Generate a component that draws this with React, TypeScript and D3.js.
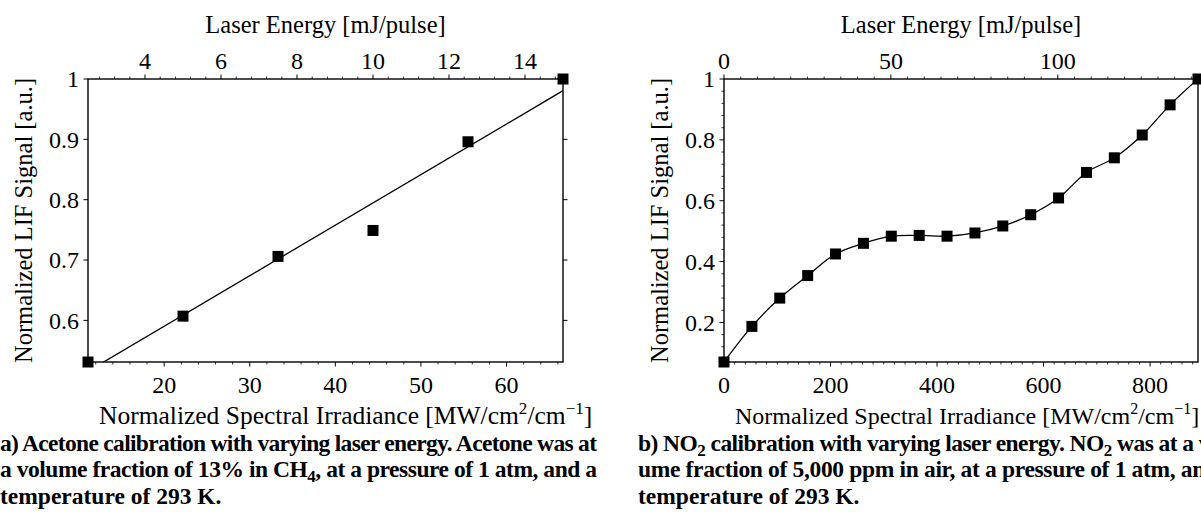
import React, { useLayoutEffect, useRef, useState } from 'react';
import * as d3 from 'd3';

const W = 1201;
const H = 512;
const FONT = '"Liberation Serif", "Times New Roman", serif';

// Panel (a): acetone signal against normalized spectral irradiance
const acetoneIrradiance = [11.1, 22.2, 33.3, 44.4, 55.5, 66.6];
const acetoneSignal = [0.531, 0.607, 0.706, 0.749, 0.896, 1.0];
const acetoneEnergyDomain = [2.5, 15];
const acetoneBottomTicks = [20, 30, 40, 50, 60];
const acetoneTopTicks = [4, 6, 8, 10, 12, 14];
const acetoneYTicks = [0.6, 0.7, 0.8, 0.9, 1];

// Panel (b): NO2 signal against normalized spectral irradiance
const no2Irradiance = [0, 52.4, 104.7, 157.1, 209.4, 261.8, 314.1, 366.5, 418.8, 471.2, 523.5, 575.9, 628.2, 680.6, 732.9, 785.3, 837.6, 890];
const no2Signal = [0.07, 0.187, 0.28, 0.354, 0.425, 0.46, 0.4835, 0.486, 0.4835, 0.494, 0.517, 0.554, 0.609, 0.693, 0.741, 0.816, 0.915, 1.0];
const no2EnergyDomain = [0, 142];
const no2BottomTicks = [0, 200, 400, 600, 800];
const no2TopTicks = [0, 50, 100];
const no2YTicks = [0.2, 0.4, 0.6, 0.8, 1];

const TICK_FONT = 24;
const TITLE_FONT = 24.5;
const CAP_FONT = 23.5;

type PanelProps = {
  id: string;
  x0: number; x1: number; y0: number; y1: number;
  xs: number[]; ys: number[];
  topDomain: number[];
  bottomTicks: number[]; topTicks: number[]; yTicks: number[];
  bottomMinor: number; topMinor: number; yMinor: number | null;
  rightTicks: boolean;
  mode: 'fit' | 'curve';
  yLabelX: number;
  xTitleSize: number;
};

function minorTicks(domain: number[], step: number, majors: number[]) {
  const [a, b] = domain;
  const start = Math.ceil(a / step - 1e-9) * step;
  return d3.range(start, b + 1e-9, step).filter(v => !majors.some(m => Math.abs(m - v) < step * 0.01));
}

function Panel(p: PanelProps) {
  const xDom = d3.extent(p.xs) as [number, number];
  const yDom = d3.extent(p.ys) as [number, number];
  const x = d3.scaleLinear().domain(xDom).range([p.x0, p.x1]);
  const xTop = d3.scaleLinear().domain(p.topDomain).range([p.x0, p.x1]);
  const y = d3.scaleLinear().domain(yDom).range([p.y1, p.y0]);
  const pts: [number, number][] = p.xs.map((v, i) => [v, p.ys[i]]);

  let path = '';
  if (p.mode === 'fit') {
    // least-squares straight line through the measurements
    const mx = d3.mean(p.xs)!;
    const my = d3.mean(p.ys)!;
    const sxy = d3.sum(pts, d => (d[0] - mx) * (d[1] - my));
    const sxx = d3.sum(pts, d => (d[0] - mx) ** 2);
    const slope = sxy / sxx;
    const f = (v: number) => my + slope * (v - mx);
    path = d3.line()([[x(xDom[0]), y(f(xDom[0]))], [x(xDom[1]), y(f(xDom[1]))]]) || '';
  } else {
    path = d3.line<[number, number]>().x(d => x(d[0])).y(d => y(d[1])).curve(d3.curveCatmullRom.alpha(0.5))(pts) || '';
  }

  const major = 4.5;
  const minor = 2.5;
  const sq = 11;
  const sup = p.xTitleSize * 0.67;
  const rise = p.xTitleSize * 0.4;

  return (
    <g fontFamily={FONT} fill="#000">
      <defs>
        <clipPath id={`clip-${p.id}`}>
          <rect x={p.x0} y={p.y0} width={p.x1 - p.x0} height={p.y1 - p.y0} />
        </clipPath>
      </defs>
      <path d={path} fill="none" stroke="#000" strokeWidth={1.3} clipPath={`url(#clip-${p.id})`} />
      <rect x={p.x0} y={p.y0} width={p.x1 - p.x0} height={p.y1 - p.y0} fill="none" stroke="#000" strokeWidth={1.4} />
      {p.bottomTicks.map(t => (
        <g key={`b${t}`}>
          <line x1={x(t)} x2={x(t)} y1={p.y1} y2={p.y1 + major} stroke="#000" strokeWidth={1} />
          <text x={x(t)} y={p.y1 + 31} textAnchor="middle" fontSize={TICK_FONT}>{t}</text>
        </g>
      ))}
      {minorTicks(xDom, p.bottomMinor, p.bottomTicks).map(t => (
        <line key={`bm${t}`} x1={x(t)} x2={x(t)} y1={p.y1} y2={p.y1 + minor} stroke="#000" strokeWidth={0.8} />
      ))}
      {p.topTicks.map(t => (
        <g key={`t${t}`}>
          <line x1={xTop(t)} x2={xTop(t)} y1={p.y0} y2={p.y0 - major} stroke="#000" strokeWidth={1} />
          <text x={xTop(t)} y={p.y0 - 10} textAnchor="middle" fontSize={TICK_FONT}>{t}</text>
        </g>
      ))}
      {minorTicks(p.topDomain, p.topMinor, p.topTicks).map(t => (
        <line key={`tm${t}`} x1={xTop(t)} x2={xTop(t)} y1={p.y0} y2={p.y0 - minor} stroke="#000" strokeWidth={0.8} />
      ))}
      {p.yTicks.map(t => (
        <g key={`y${t}`}>
          <line x1={p.x0} x2={p.x0 - major} y1={y(t)} y2={y(t)} stroke="#000" strokeWidth={1} />
          {p.rightTicks && <line x1={p.x1} x2={p.x1 + major} y1={y(t)} y2={y(t)} stroke="#000" strokeWidth={1} />}
          <text x={p.x0 - 9} y={y(t)} dy="0.35em" textAnchor="end" fontSize={TICK_FONT}>{String(t)}</text>
        </g>
      ))}
      {p.yMinor !== null && minorTicks(yDom, p.yMinor, p.yTicks).map(t => (
        <line key={`ym${t}`} x1={p.x0} x2={p.x0 - minor} y1={y(t)} y2={y(t)} stroke="#000" strokeWidth={0.8} />
      ))}
      {pts.map((d, i) => (
        <rect key={`m${i}`} x={x(d[0]) - sq / 2} y={y(d[1]) - sq / 2} width={sq} height={sq} fill="#000" />
      ))}
      <text x={(p.x0 + p.x1) / 2} y={33} textAnchor="middle" fontSize={TITLE_FONT}>Laser Energy [mJ/pulse]</text>
      <text x={p.x0 + 11} y={424} fontSize={p.xTitleSize}>
        Normalized Spectral Irradiance [MW/cm<tspan dy={-rise} fontSize={sup}>2</tspan><tspan dy={rise}>/cm</tspan><tspan dy={-rise} fontSize={sup}>−1</tspan><tspan dy={rise}>]</tspan>
      </text>
      <text transform={`translate(${p.yLabelX},${(p.y0 + p.y1) / 2}) rotate(-90)`} textAnchor="middle" fontSize={TITLE_FONT}>
        Normalized LIF Signal [a.u.]
      </text>
    </g>
  );
}

// A caption line set to a fixed column width: gaps are widened, or glyphs
// are packed closer when the line runs long.
function JustifiedLine({ x, y, width, children }: { x: number; y: number; width: number; children: React.ReactNode }) {
  const ref = useRef<SVGTextElement>(null);
  const [sp, setSp] = useState({ word: 0, letter: 0 });
  useLayoutEffect(() => {
    const el = ref.current;
    if (!el) return;
    const natural = el.getComputedTextLength();
    const txt = el.textContent || '';
    const spaces = txt.split(' ').length - 1;
    if (natural > width) setSp({ word: 0, letter: (width - natural) / Math.max(1, txt.length - 1) });
    else if (spaces > 0) setSp({ word: (width - natural) / spaces, letter: 0 });
  }, [width]);
  return (
    <text ref={ref} x={x} y={y} fontSize={CAP_FONT} fontWeight="bold" fontFamily={FONT}
      wordSpacing={sp.word} letterSpacing={sp.letter}>
      {children}
    </text>
  );
}

export default function App() {
  return (
    <svg width={W} height={H} viewBox={`0 0 ${W} ${H}`} style={{ position: 'absolute', left: 0, top: 0, background: '#fff' }}>
      <rect width={W} height={H} fill="#fff" />
      <Panel
        id="a" x0={88} x1={563} y0={79} y1={362}
        xs={acetoneIrradiance} ys={acetoneSignal} topDomain={acetoneEnergyDomain}
        bottomTicks={acetoneBottomTicks} topTicks={acetoneTopTicks} yTicks={acetoneYTicks}
        bottomMinor={2} topMinor={0.4} yMinor={null} rightTicks={true} mode="fit" yLabelX={32}
        xTitleSize={25.5}
      />
      <Panel
        id="b" x0={724} x1={1198} y0={79} y1={362}
        xs={no2Irradiance} ys={no2Signal} topDomain={no2EnergyDomain}
        bottomTicks={no2BottomTicks} topTicks={no2TopTicks} yTicks={no2YTicks}
        bottomMinor={20} topMinor={5} yMinor={0.04} rightTicks={false} mode="curve" yLabelX={668}
        xTitleSize={24}
      />
      <JustifiedLine x={0} y={451} width={597}>a) Acetone calibration with varying laser energy. Acetone was at</JustifiedLine>
      <JustifiedLine x={0} y={477} width={597}>
        a volume fraction of 13% in CH<tspan dy={5} fontSize={17}>4</tspan><tspan dy={-5}>, at a pressure of 1 atm, and a</tspan>
      </JustifiedLine>
      <text x={0} y={504} fontSize={CAP_FONT} fontWeight="bold" fontFamily={FONT}>temperature of 293 K.</text>

      <JustifiedLine x={638} y={451} width={597}>
        b) NO<tspan dy={5} fontSize={17}>2</tspan><tspan dy={-5}> calibration with varying laser energy. NO</tspan><tspan dy={5} fontSize={17}>2</tspan><tspan dy={-5}> was at a vol-</tspan>
      </JustifiedLine>
      <JustifiedLine x={638} y={477} width={597}>ume fraction of 5,000 ppm in air, at a pressure of 1 atm, and a</JustifiedLine>
      <text x={638} y={504} fontSize={CAP_FONT} fontWeight="bold" fontFamily={FONT}>temperature of 293 K.</text>
    </svg>
  );
}
